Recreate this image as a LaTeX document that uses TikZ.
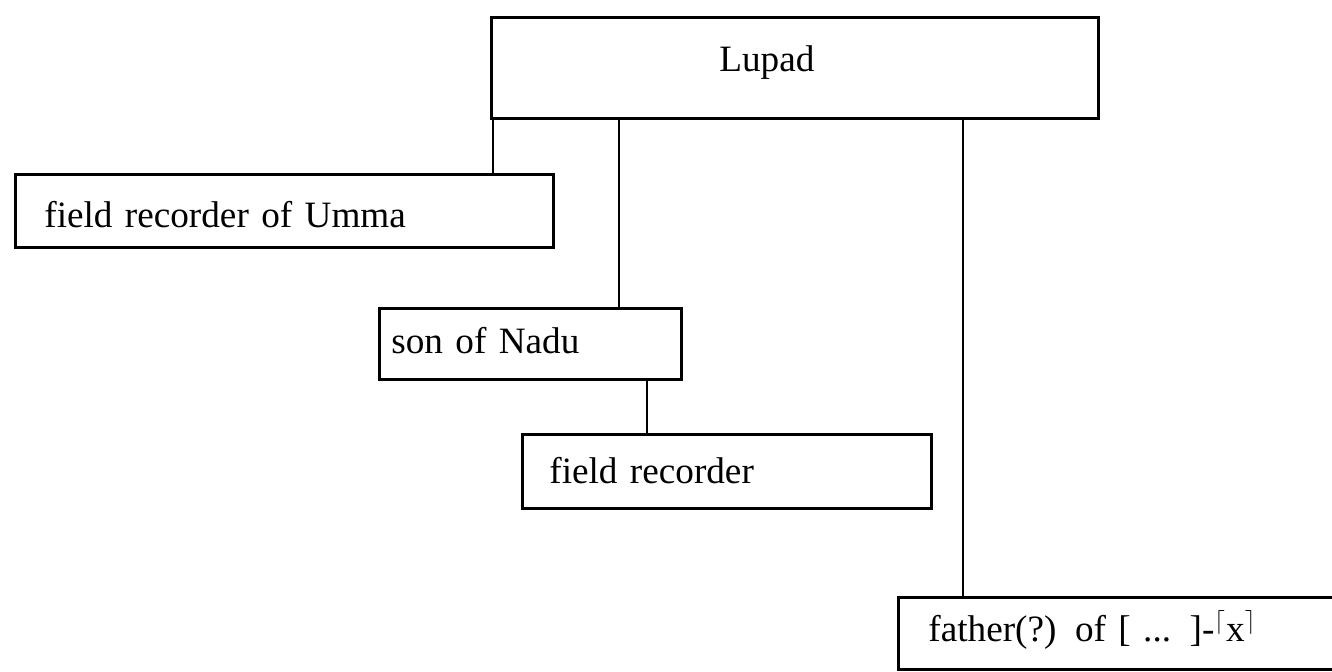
\documentclass[tikz,border=0pt]{standalone}
\usepackage{fontspec}
\setmainfont{Liberation Serif}
\begin{document}
\begin{tikzpicture}[x=0.5pt,y=-0.5pt,
  box/.style={draw, line width=1.4pt, anchor=north west, rectangle,
    font=\fontsize{18.6}{22}\selectfont, text depth=4pt,
    inner ysep=0pt, align=left},
  link/.style={line width=1.4pt}]
\useasboundingbox (0,0) rectangle (1332,672);
\clip (0,0) rectangle (1332,672);
\node[box, minimum width=303.5pt, minimum height=50.5pt, text width=75.5pt, inner xsep=114pt, text height=7.5pt] (lupad) at (490,16) {Lupad};
\node[box, minimum width=269pt, minimum height=36.5pt, text width=240pt, inner xsep=14.5pt, text height=21pt] (umma) at (14,173) {field recorder of Umma};
\node[box, minimum width=151pt, minimum height=35.5pt, text width=139pt, inner xsep=6pt, text height=13.5pt] (son) at (378,307) {son of Nadu};
\node[box, minimum width=204.5pt, minimum height=37pt, text width=177.5pt, inner xsep=13.5pt, text height=16pt] (rec) at (521,433) {field recorder};
\node[box, minimum width=222pt, minimum height=36pt, text width=192pt, inner xsep=15pt, text height=12pt] (father) at (897,596) {father(?) of [ ... ]-$^{\lceil}$x$^{\rceil}$};
\coordinate (k1) at (493,0);
\coordinate (k2) at (619,0);
\coordinate (k3) at (963,0);
\coordinate (k4) at (647,0);
\draw[link] (lupad.south -| k1) -- (umma.north -| k1);
\draw[link] (lupad.south -| k2) -- (son.north -| k2);
\draw[link] (lupad.south -| k3) -- (father.north -| k3);
\draw[link] (son.south -| k4) -- (rec.north -| k4);
\end{tikzpicture}
\end{document}
